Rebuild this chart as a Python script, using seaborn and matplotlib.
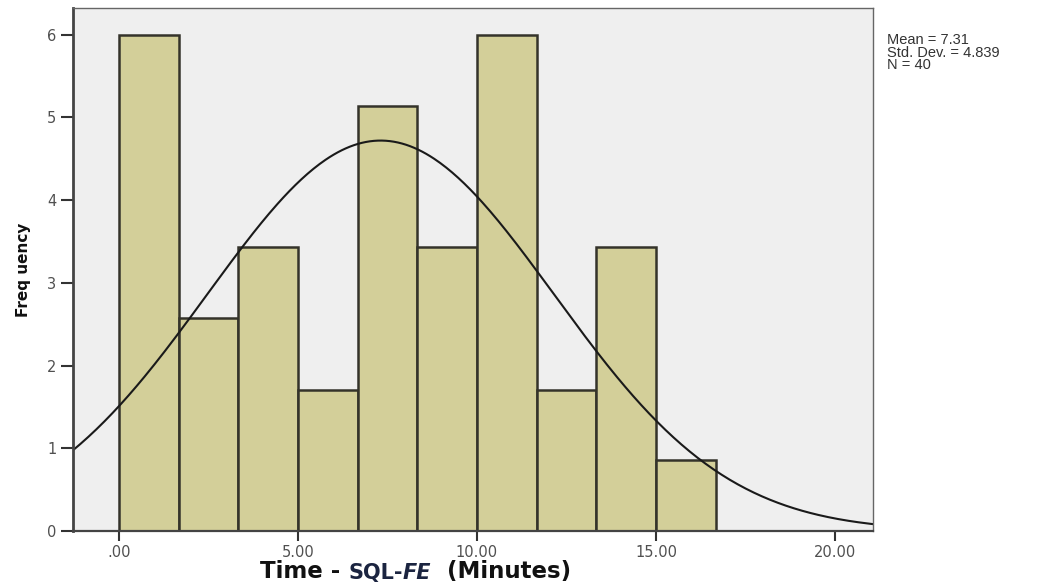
import numpy as np
import pandas as pd
import matplotlib
matplotlib.use("Agg")
import matplotlib.pyplot as plt
import seaborn as sns

# ---- data ----
bin_edges = [0.0, 1.667, 3.333, 5.0, 6.667, 8.333, 10.0, 11.667, 13.333, 15.0, 16.667]
bar_heights = [6.0, 2.57, 3.43, 1.71, 5.14, 3.43, 6.0, 1.71, 3.43, 0.86]
x_ticks = [0, 5, 10, 15, 20]
x_tick_labels = [".00", "5.00", "10.00", "15.00", "20.00"]
y_ticks = [0, 1, 2, 3, 4, 5, 6]
stat_mean = 7.31
stat_sd = 4.839
stat_n = 40
curve_peak = 4.72  # height of fitted normal curve at the mean, in axis units

sns.set_theme(style="white")
plt.rcParams['font.family'] = ['DejaVu Sans']

fig = plt.figure(figsize=(10.49, 5.87), dpi=100)
ax = fig.add_axes([0.0696, 0.0954, 0.7626, 0.8906])
ax.set_facecolor("#efefef")

centers = [(bin_edges[i] + bin_edges[i + 1]) / 2 for i in range(len(bar_heights))]
df = pd.DataFrame({"x": centers, "w": bar_heights})
sns.histplot(data=df, x="x", weights="w", bins=bin_edges, ax=ax,
             color="#d3cf99", edgecolor="#34332a", linewidth=1.8, alpha=1.0)

xs = np.linspace(-1.3, 21.1, 400)
ys = curve_peak * np.exp(-0.5 * ((xs - stat_mean) / stat_sd) ** 2)
sns.lineplot(x=xs, y=ys, ax=ax, color="#1a1a1a", linewidth=1.5)

ax.set_xlim(-1.28, 21.06)
ax.set_ylim(0, 6.32)
ax.set_xticks(x_ticks)
ax.set_xticklabels(x_tick_labels)
ax.set_yticks(y_ticks)
ax.set_yticklabels([str(v) for v in y_ticks])
ax.tick_params(axis="both", which="both", direction="out", length=9, width=1.5,
               color="#333333", labelsize=10.5, labelcolor="#505050", pad=3,
               bottom=True, left=True)
ax.tick_params(axis="x", length=7, pad=3)
for side, sp in ax.spines.items():
    sp.set_visible(True)
    sp.set_color("#666666")
    sp.set_linewidth(1.0)
ax.spines["left"].set_linewidth(2.0)
ax.spines["left"].set_color("#444444")
ax.spines["bottom"].set_linewidth(1.6)
ax.spines["bottom"].set_color("#444444")

ax.set_xlabel("")
ax.set_ylabel("Freq uency", fontsize=11, fontweight="bold", color="#111111",
              family="DejaVu Sans Condensed")
ax.yaxis.set_label_coords(-0.052, 0.5)

# x label built from pieces
t1 = fig.text(0.248, 0.006, "Time - ", fontsize=16.5, fontweight="bold", color="#111111",
              ha="left", va="bottom")
t2 = ax.annotate("SQL-", xy=(1, 0), xycoords=t1, fontsize=15, fontweight="bold",
                 color="#1b2440", ha="left", va="bottom")
t3 = ax.annotate("FE", xy=(1, 0), xycoords=t2, fontsize=15, fontweight="bold",
                 fontstyle="italic", color="#1b2440", ha="left", va="bottom")
t4 = ax.annotate("  (Minutes)", xy=(1, 0), xycoords=t3, fontsize=16.5, fontweight="bold",
                 color="#111111", ha="left", va="bottom")

fig.text(0.846, 0.91,
         f"Mean = {stat_mean}\nStd. Dev. = {stat_sd}\nN = {stat_n}",
         fontsize=10.5, color="#333333", family="Liberation Sans",
         ha="left", va="center", linespacing=0.85)

fig.savefig("out.png", dpi=100, facecolor="white")
